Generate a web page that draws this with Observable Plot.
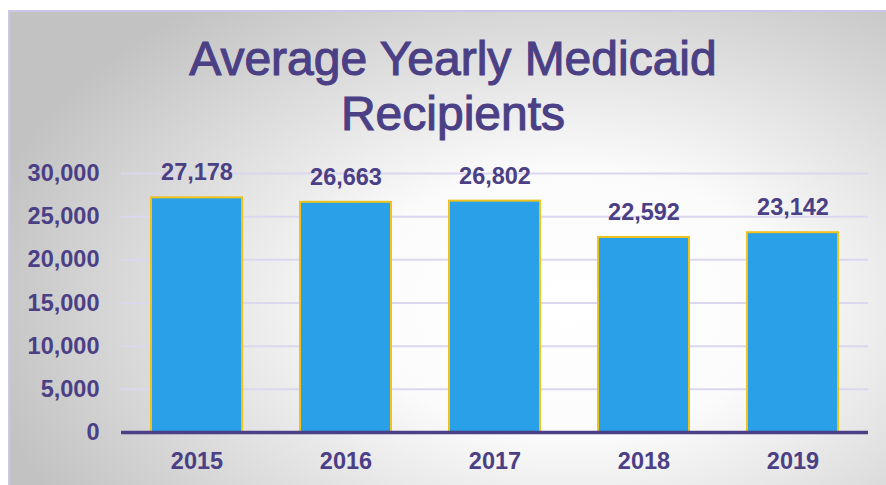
<!DOCTYPE html>
<html>
<head>
<meta charset="utf-8">
<script src="https://cdn.jsdelivr.net/npm/d3@7"></script>
<script src="https://cdn.jsdelivr.net/npm/@observablehq/plot@0.6"></script>
<style>
  html, body { margin: 0; padding: 0; background: #ffffff; }
  #page { position: relative; width: 886px; height: 485px; overflow: hidden; }
  #frame {
    position: absolute; left: 8px; top: 10px; width: 878px; height: 475px;
    border-left: 2px solid #cdc6e4; border-top: 2px solid #cdc6e4;
    background: radial-gradient(ellipse 600px 380px at 560px 290px, #ffffff 0%, #fbfbfb 35%, #c2c2c2 100%);
  }
  #title {
    position: absolute; left: 0; top: 31px; width: 906px; text-align: center;
    font-family: "Liberation Sans", Arial, sans-serif; font-size: 48px; line-height: 55px;
    color: #4b3f85; -webkit-text-stroke: 1.1px #4b3f85;
  }
  #chart { position: absolute; left: 0; top: 140px; }
</style>
</head>
<body>
<div id="page">
  <div id="frame"></div>
  <div id="title">Average Yearly Medicaid<br>Recipients</div>
  <div id="chart"></div>
</div>
<script>
const years = ["2015", "2016", "2017", "2018", "2019"];
const recipients = [27178, 26663, 26802, 22592, 23142];
const yTicks = [0, 5000, 10000, 15000, 20000, 25000, 30000];

const data = years.map((y, i) => ({year: y, value: recipients[i]}));
const fmt = d3.format(",");
const purple = "#4b3f85";

const chart = Plot.plot({
  width: 886,
  height: 345,
  marginLeft: 121,
  marginRight: 18,
  marginTop: 33,
  marginBottom: 53,
  style: {background: "transparent", fontFamily: "'Liberation Sans', Arial, sans-serif", fontSize: "23px", color: purple, overflow: "visible"},
  x: {domain: years, paddingInner: 0.39, paddingOuter: 0.195, label: null},
  y: {domain: [0, 30000], label: null},
  marks: [
    Plot.gridY(yTicks, {stroke: "#dcd6ee", strokeOpacity: 1, strokeWidth: 2}),
    Plot.barY(data, {x: "year", y: "value", fill: "#29a0e8", stroke: "#f0c21c", strokeWidth: 2}),
    Plot.ruleY([0], {stroke: purple, strokeWidth: 3.5}),
    Plot.text(data, {x: "year", y: "value", text: d => fmt(d.value), dy: -25, lineAnchor: "middle", fill: purple, fontWeight: "bold", fontSize: 23.5}),
    Plot.axisY(yTicks, {tickSize: 0, tickPadding: 22, tickFormat: fmt, fontWeight: "bold", fill: purple, fontSize: 23.5, label: null}),
    Plot.axisX({tickSize: 0, tickPadding: 20, fontWeight: "bold", fill: purple, fontSize: 23.5, label: null})
  ]
});
document.getElementById("chart").appendChild(chart);
</script>
</body>
</html>
